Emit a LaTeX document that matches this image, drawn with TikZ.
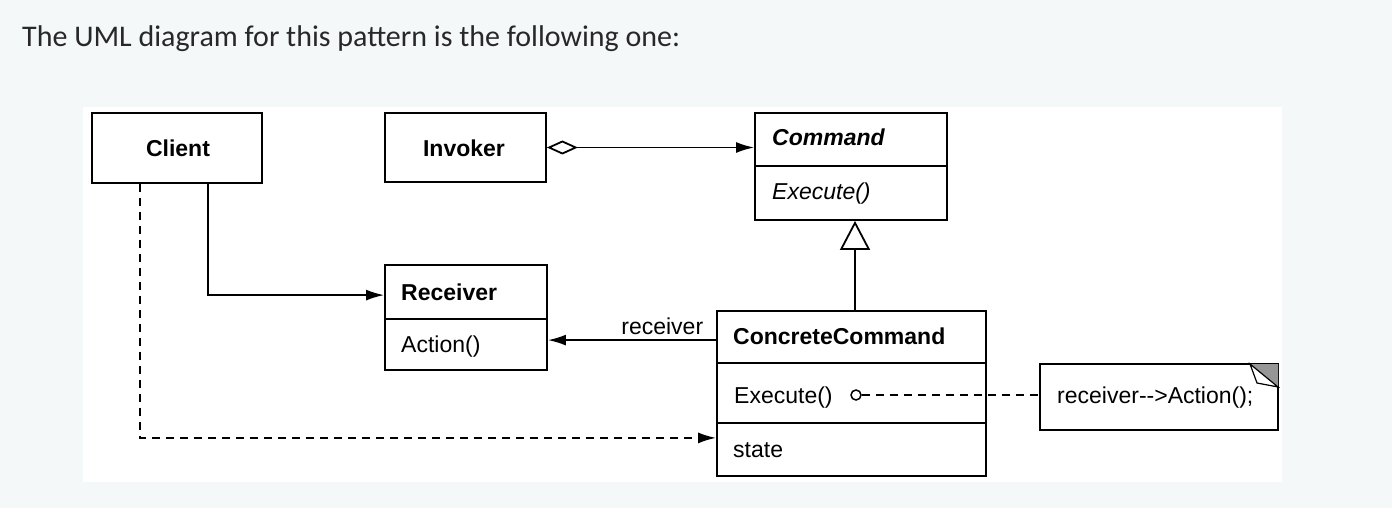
\documentclass[tikz,border=0pt]{standalone}
\usepackage{fontspec}
\setmainfont{Liberation Sans}
\newfontfamily\titlefont{Carlito}
\usetikzlibrary{arrows.meta}
\definecolor{pagebg}{RGB}{245,248,249}
\definecolor{titlecol}{RGB}{40,40,40}
\definecolor{stipple}{RGB}{150,150,150}
\begin{document}
\begin{tikzpicture}[x=1pt,y=-1pt,
  box/.style={draw, line width=1.8pt, inner sep=0pt},
  lbl/.style={inner sep=0pt, anchor=base west},
  dfont/.style={font=\fontsize{23}{26}\selectfont},
  bfont/.style={font=\bfseries\fontsize{23}{26}\selectfont},
  conn/.style={line width=1.8pt},
  dashconn/.style={line width=1.8pt, dash pattern=on 8pt off 6pt},
  headtip/.style={-{Latex[length=18pt,width=11pt]}}
]
\useasboundingbox (0,0) rectangle (1392,508);
\fill[pagebg] (0,0) rectangle (1392,508);
\fill[white] (83,107) rectangle (1282,482);
\node[lbl, text=titlecol, font=\titlefont\fontsize{30}{34}\selectfont] (title) at (22,47) {The UML diagram for this pattern is the following one:};

% Client
\node[box, minimum width=170pt, minimum height=70pt] (client) at (177,148) {};
\node[lbl, bfont, anchor=base] (clientname) at (178,157) {Client};
% Invoker
\node[box, minimum width=161pt, minimum height=69pt] (invoker) at (465.5,147.5) {};
\node[lbl, bfont, anchor=base] (invokername) at (464,157) {Invoker};
% Command
\node[box, minimum width=192pt, minimum height=107pt] (command) at (851,166.5) {};
\draw[conn] (command.west |- 0,166) -- (command.east |- 0,166);
\node[lbl, font=\bfseries\itshape\fontsize{23}{26}\selectfont] (cmdname) at (772,146) {Command};
\node[lbl, font=\itshape\fontsize{23}{26}\selectfont] (cmdexec) at (772,199) {Execute()};
% Receiver
\node[box, minimum width=162pt, minimum height=105pt] (recv) at (466,317.5) {};
\draw[conn] (recv.west |- 0,319) -- (recv.east |- 0,319);
\node[lbl, bfont] (recvname) at (401,300) {Receiver};
\node[lbl, dfont] (recvaction) at (401,352) {Action()};
% ConcreteCommand
\node[box, minimum width=269pt, minimum height=165pt] (cc) at (851.5,393.5) {};
\draw[conn] (cc.west |- 0,363) -- (cc.east |- 0,363);
\draw[conn] (cc.west |- 0,423) -- (cc.east |- 0,423);
\node[lbl, bfont] (ccname) at (733,344) {ConcreteCommand};
\node[lbl, dfont] (ccexec) at (734,403) {Execute()};
\node[lbl, dfont] (ccstate) at (733,457) {state};
% Note
\node[box, minimum width=238pt, minimum height=66pt] (note) at (1159,397) {};
\fill[stipple] (1250,364) -- (1278,364) -- (1278,387) -- cycle;
\filldraw[fill=white, line width=1.2pt] (1250,364) -- (1257,383) -- (1278,387) -- cycle;
\node[lbl, dfont] (notetext) at (1057,403) {receiver-{}->Action();};
% small circle
\node[draw, circle, line width=1.5pt, minimum size=10pt, inner sep=0pt] (dot) at (856,395) {};

% connectors
\draw[conn, {Diamond[open, length=31pt, width=14pt]}-{Latex[length=18pt,width=11pt]}] (invoker.east) -- (invoker.east -| command.west);
\draw[conn, headtip] ([xshift=31pt]client.south) |- ([yshift=-31pt]recv.north west);
\draw[conn, headtip] ([yshift=-30pt]cc.north west) -- ([yshift=-30pt]cc.north west -| recv.east)
  node[pos=0.32, above=4pt, inner sep=0pt, dfont] (recvlabel) {receiver};
\draw[conn, -{Triangle[open, length=29pt, width=30pt]}] ([xshift=3.5pt]cc.north) -- ([xshift=4pt]command.south);
\draw[dashconn, headtip] ([xshift=-37pt]client.south) |- ([yshift=39pt]cc.south west);
\draw[dashconn] (dot.east) -- (note.west |- dot.east);
\end{tikzpicture}
\end{document}
